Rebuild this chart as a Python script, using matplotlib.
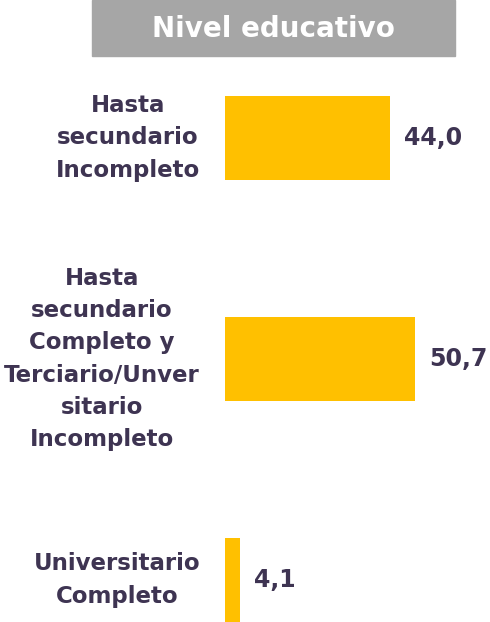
import matplotlib.pyplot as plt
from matplotlib.patches import Rectangle

categories = ["Hasta\nsecundario\nIncompleto",
              "Hasta\nsecundario\nCompleto y\nTerciario/Unver\nsitario\nIncompleto",
              "Universitario\nCompleto"]
values = [44.0, 50.7, 4.1]
title = "Nivel educativo"

bar_color = "#FFC000"
text_color = "#3E3452"

fig = plt.figure(figsize=(4.9, 6.22), dpi=100)
ax = fig.add_axes([225 / 490, 0, 265 / 490, 1])

y = range(len(values))
ax.barh(y, values, height=0.38, color=bar_color)
ax.set_xlim(0, 70.7)
ax.set_ylim(2.19, -0.624)
ax.axis("off")

for i, (cat, v) in enumerate(zip(categories, values)):
    ax.annotate(f"{v:.1f}".replace(".", ","), xy=(v, i), xytext=(14 / 1.389, 0),
                textcoords="offset points", ha="left", va="center",
                fontsize=17, fontweight="bold", color=text_color)
    ax.annotate(cat, xy=(0, i), xytext=(-25 / 1.389, 0), textcoords="offset points",
                ha="right", va="center", multialignment="center", linespacing=1.51,
                fontsize=16.5, fontweight="bold", color=text_color)

# title box
fig.patches.append(Rectangle((92 / 490, 1 - 56 / 622), 363 / 490, 56 / 622,
                             transform=fig.transFigure, color="#A6A6A6", zorder=0))
fig.text(273.5 / 490, 1 - 29 / 622, title, ha="center", va="center",
         fontsize=20, fontweight="bold", color="white")

fig.savefig("out.png", dpi=100)
